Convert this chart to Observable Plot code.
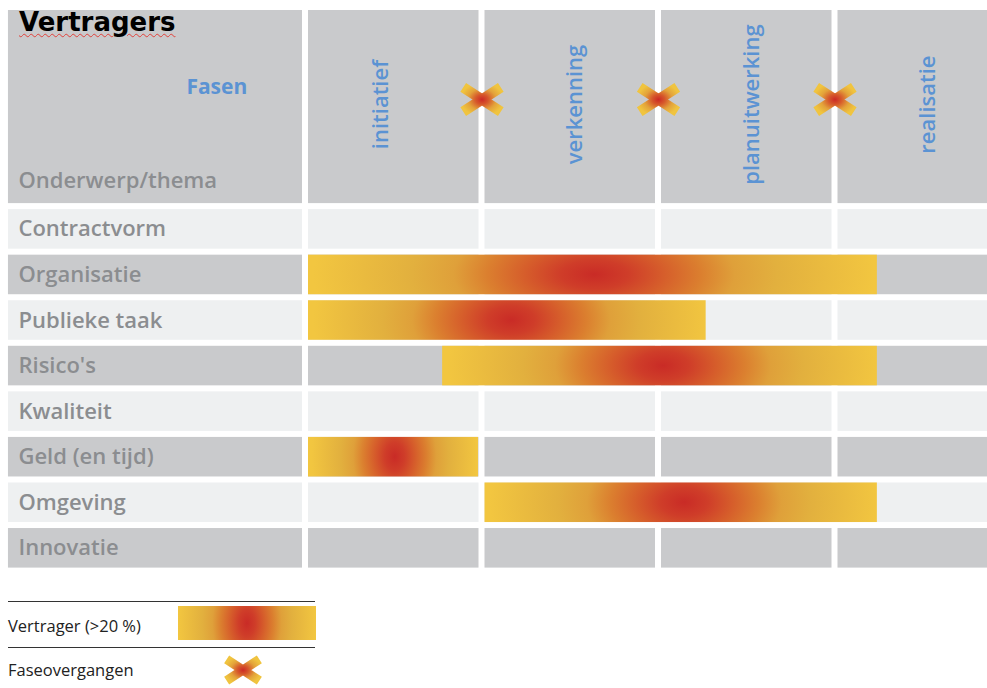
<!DOCTYPE html>
<html><head><meta charset="utf-8">
<script src="https://cdn.jsdelivr.net/npm/d3@7"></script>
<script src="https://cdn.jsdelivr.net/npm/@observablehq/plot@0.6"></script>
<style>
body{margin:0;background:#fff;}
#wrap{position:relative;width:987px;height:688px;overflow:hidden;font-family:"Open Sans",sans-serif;}
#chart{position:absolute;left:0;top:0;}
#title{position:absolute;left:19px;top:9px;font:bold 26px/27px "DejaVu Sans",sans-serif;color:#000;
  text-decoration:underline wavy #e0403a;text-decoration-thickness:1px;text-underline-offset:2px;}
.lline{position:absolute;left:8px;width:307px;height:0;border-top:1px solid #333;}
.ltext{position:absolute;left:8px;font:400 16.5px "Open Sans",sans-serif;color:#222;line-height:20px;}
#swatch{position:absolute;left:178px;top:606px;width:138px;height:34px;
  background:radial-gradient(ellipse 69px 110px at 50% 50%,#c92b26 0%,#cf3d29 12%,#d65e2b 25%,#db7f2f 38%,#dfa03a 50%,#e2b03e 65%,#f2c640 100%);}
#lx{position:absolute;left:222px;top:654px;}
</style></head>
<body><div id="wrap"><div id="chart"></div>
<div id="title">Vertragers</div>
<div class="lline" style="top:601px"></div>
<div class="ltext" style="top:616px">Vertrager (&gt;20 %)</div>
<div id="swatch"></div>
<div class="lline" style="top:647px"></div>
<div class="ltext" style="top:660px">Faseovergangen</div>
<svg id="lx" width="42" height="32"></svg>
</div>
<script>
// ---- data ----
const topics = ["Contractvorm","Organisatie","Publieke taak","Risico's","Kwaliteit","Geld (en tijd)","Omgeving","Innovatie"];
const phases = ["initiatief","verkenning","planuitwerking","realisatie"];
const transitions = [1, 2, 3];            // phase boundaries (Faseovergangen)
// delay bars (Vertragers), in phase units
const barTopics = ["Organisatie","Publieke taak","Risico's","Geld (en tijd)","Omgeving"];
const barStart  = [0, 0, 0.76, 0, 1.0];
const barEnd    = [3.24, 2.27, 3.24, 0.98, 3.24];
const barPeak   = [1.63, 1.16, 2.02, 0.50, 2.14];
const barSpread = [1.60, 1.13, 1.23, 0.48, 1.11];
const headerTitle = "Fasen";
const headerRowTitle = "Onderwerp/thema";

// ---- layout constants ----
const LABEL_W = 1.7;      // label column width in phase units
const HEADER_H = 4.37;    // header height in row units
const LIGHT = "#eef0f1", GREY = "#c9cacc", BLUE = "#5b93d3", TXT = "#8b8d90";

const cells = [];
const rows = [{y1: -HEADER_H, y2: 0, fill: GREY}].concat(topics.map((t, i) => ({y1: i, y2: i + 1, fill: i % 2 ? GREY : LIGHT})));
for (const r of rows) {
  cells.push({x1: -LABEL_W, x2: 0, ...r});
  phases.forEach((p, j) => cells.push({x1: j, x2: j + 1, ...r}));
}
const bars = barTopics.map((t, i) => ({topic: t, row: topics.indexOf(t), start: barStart[i], end: barEnd[i], peak: barPeak[i], spread: barSpread[i], id: "bar" + i}));

const stops = [[0,"#c92b26"],[0.12,"#cf3d29"],[0.25,"#d65e2b"],[0.38,"#db7f2f"],[0.5,"#dfa03a"],[0.65,"#e2b03e"],[1,"#f2c640"]];
const xStops = [[0,"#cc2a25"],[0.3,"#d6582b"],[0.65,"#e3a23a"],[1,"#f0c43f"]];

function defsMark() {
  const defs = d3.create("svg:defs");
  for (const b of bars) {
    const w = b.end - b.start, cx = (b.peak - b.start) / w, rx = b.spread / w, ry = 3;
    const g = defs.append("radialGradient").attr("id", b.id)
      .attr("cx", cx).attr("cy", 0.5).attr("fx", cx).attr("fy", 0.5).attr("r", rx)
      .attr("gradientTransform", `translate(${cx},0.5) scale(1,${ry / rx}) translate(${-cx},-0.5)`);
    for (const [o, c] of stops) g.append("stop").attr("offset", o).attr("stop-color", c);
  }
  const gx = defs.append("radialGradient").attr("id", "xg").attr("cx", 0.5).attr("cy", 0.5).attr("r", 0.5);
  for (const [o, c] of xStops) gx.append("stop").attr("offset", o).attr("stop-color", c);
  return defs.node();
}

// X-shaped symbol: two crossed arms
function crossPath(ctx, a, b, ang) {
  for (const s of [1, -1]) {
    const c = Math.cos(ang), sn = Math.sin(ang) * s;
    const ux = c, uy = sn, vx = -sn, vy = c;
    ctx.moveTo(a*ux + b*vx, a*uy + b*vy);
    ctx.lineTo(a*ux - b*vx, a*uy - b*vy);
    ctx.lineTo(-a*ux - b*vx, -a*uy - b*vy);
    ctx.lineTo(-a*ux + b*vx, -a*uy + b*vy);
    ctx.closePath();
  }
}
const xSymbol = {draw(ctx) { crossPath(ctx, 22.4, 5.2, 33 * Math.PI / 180); }};

const labelStyle = {fill: TXT, fontSize: 22, fontWeight: 600, fontFamily: "Open Sans", letterSpacing: 1.2};
const phaseStyle = {fill: BLUE, fontSize: 22, fontWeight: 600, fontFamily: "Open Sans", letterSpacing: 1.0};

const plot = Plot.plot({
  width: 987, height: 575,
  margin: 0,
  x: {domain: [0, 4], range: [305, 1011], axis: null},
  y: {domain: [-HEADER_H, 8], range: [7, 570.6], axis: null},
  color: {type: "identity"},
  style: {background: "transparent"},
  marks: [
    defsMark,
    Plot.rect(cells, {x1: "x1", x2: "x2", y1: "y1", y2: "y2", fill: "fill", insetLeft: 3, insetRight: 3, insetTop: 3, insetBottom: 3}),
    Plot.rect(bars, {x1: "start", x2: "end", y1: "row", y2: d => d.row + 1, fill: d => `url(#${d.id})`, insetLeft: 3, insetTop: 3, insetBottom: 3}),
    Plot.text(topics, {x: -LABEL_W, y: (d, i) => i + 0.5, text: d => d, dx: 13, textAnchor: "start", ...labelStyle}),
    Plot.text([headerRowTitle], {x: -LABEL_W, y: -0.57, text: d => d, dx: 13, textAnchor: "start", ...labelStyle}),
    Plot.text([headerTitle], {x: -0.33, y: -2.61, text: d => d, textAnchor: "end", fill: BLUE, fontSize: 21, fontWeight: 700, fontFamily: "Open Sans", letterSpacing: 0.4}),
    Plot.text(phases.slice(0, 1), {x: 0.5, y: -2.24, text: d => d, rotate: -90, dx: -13, ...phaseStyle}),
    Plot.text(phases.slice(1), {x: (d) => phases.indexOf(d) + 0.5, y: -2.24, text: d => d, rotate: -90, dx: 5, ...phaseStyle}),
    Plot.dot(transitions, {x: d => d, y: -2.35, symbol: xSymbol, r: 10, fill: "url(#xg)", stroke: "none"})
  ]
});
document.getElementById("chart").appendChild(plot);

// legend cross
const lx = d3.select("#lx");
const lg = lx.append("defs").append("radialGradient").attr("id", "lxg").attr("cx", 0.5).attr("cy", 0.5).attr("r", 0.5);
for (const [o, c] of xStops) lg.append("stop").attr("offset", o).attr("stop-color", c);
const p = d3.path(); crossPath(p, 19.5, 4.6, 33 * Math.PI / 180);
lx.append("path").attr("transform", "translate(21,16)").attr("d", p.toString()).attr("fill", "url(#lxg)");
</script>
</body></html>
